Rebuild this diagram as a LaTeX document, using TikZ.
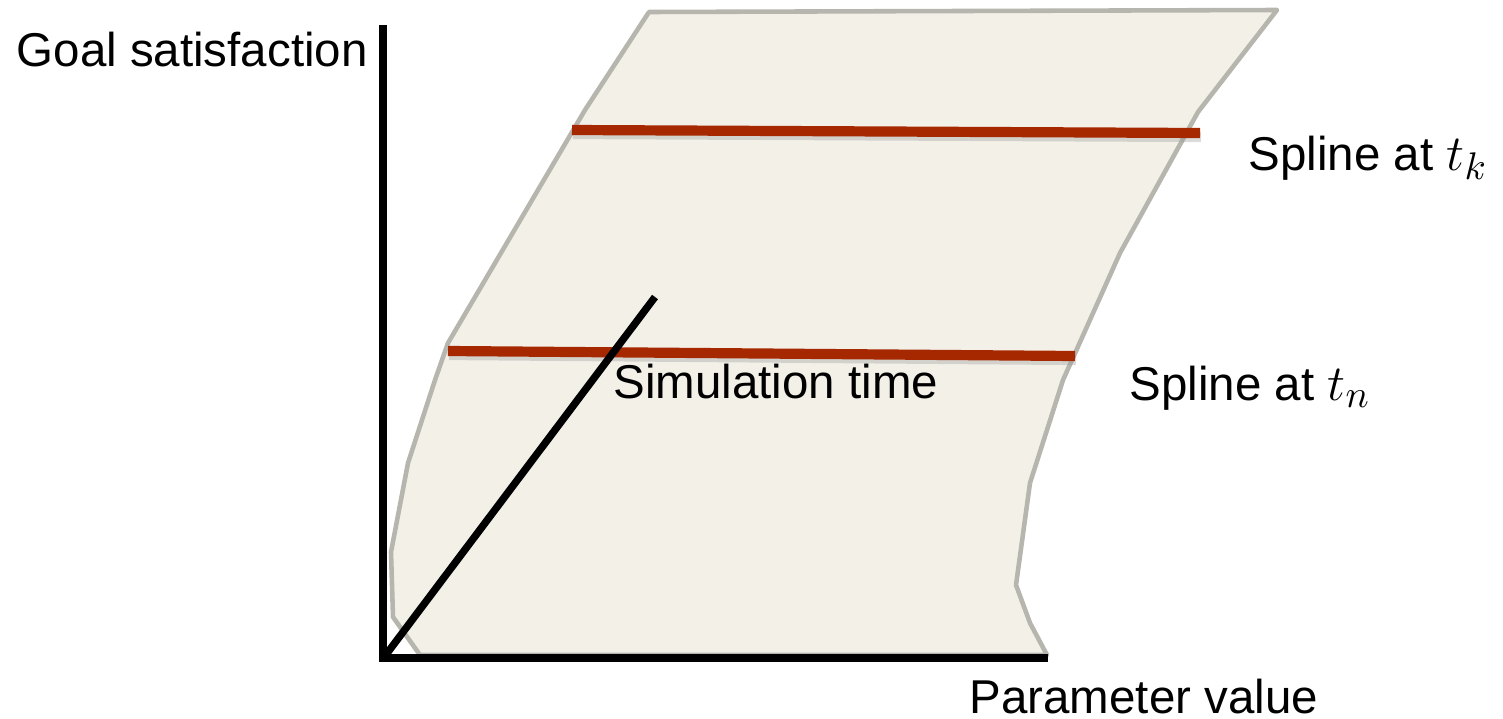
\documentclass[tikz,border=0pt]{standalone}
\usepackage{fontspec}
\setmainfont{Liberation Sans}
\begin{document}
\begin{tikzpicture}[x=0.01cm,y=-0.01cm,
  surface/.style={draw=outlinegray,fill=surfacefill,line width=1.3pt,line join=round},
  axisline/.style={draw=black,line width=2.3pt},
  timeaxis/.style={draw=black,line width=2.1pt},
  splineline/.style={draw=splinered,line width=2.9pt},
  splineshadow/.style={draw=black!40,opacity=0.35,line width=2.9pt},
  lbl/.style={font=\fontsize{13.5}{16}\selectfont,inner sep=0pt,anchor=base west}]
\definecolor{outlinegray}{HTML}{B6B6AE}
\definecolor{surfacefill}{HTML}{F3F0E8}
\definecolor{splinered}{HTML}{A62800}
\useasboundingbox (0,0) rectangle (1503,718);
% surface
\path[surface] (649,12) -- (1277,10) -- (1198,112) -- (1120,253) -- (1063,380)
  -- (1030,483) -- (1016,585) -- (1030,623) -- (1047,655) -- (420,655)
  -- (393,617) -- (391,552) -- (408,463) -- (435,380) -- (448,343)
  -- (585,110) -- cycle;
% coordinates
\coordinate (o) at (383,658);
\coordinate (ytop) at (383,25);
\coordinate (xend) at (1048,658);
\coordinate (tend) at (655,297);
\coordinate (k1) at (572,130);
\coordinate (k2) at (1200,133);
\coordinate (n1) at (448,351);
\coordinate (n2) at (1075,356);
% spline lines with faint shadow
\draw[splineshadow] ([shift={(1,4)}]k1) -- ([shift={(1,4)}]k2);
\draw[splineshadow] ([shift={(1,4)}]n1) -- ([shift={(1,4)}]n2);
\draw[splineline] (k1) -- (k2);
\draw[splineline] (n1) -- (n2);
% axes
\draw[axisline] (o) -- (ytop);
\draw[axisline] ([xshift=-1.1pt]o) -- (xend);
\draw[timeaxis] ([shift={(2,-2)}]o) -- (tend);
% labels
\node[lbl] (goal) at (16,66) {Goal satisfaction};
\node[lbl] (sim) at (613,398) {Simulation time};
\node[lbl] (param) at (969,713) {Parameter value};
\node[lbl] (tk) at (1248,170) {Spline at {\fontsize{15.5}{18}\selectfont$t_k$}};
\node[lbl] (tn) at (1129,400) {Spline at {\fontsize{15.5}{18}\selectfont$t_n$}};
\end{tikzpicture}
\end{document}
